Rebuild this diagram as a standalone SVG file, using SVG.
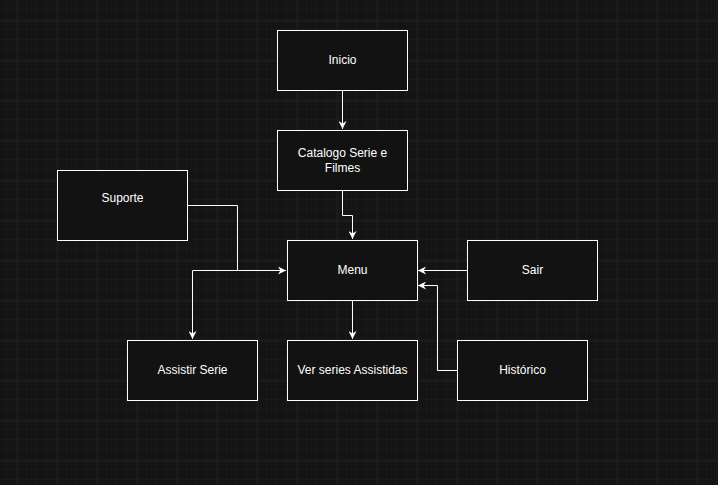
<svg xmlns="http://www.w3.org/2000/svg" width="718" height="485" viewBox="0 0 718 485">
<defs>
<pattern id="minor" x="7" y="0" width="10" height="10" patternUnits="userSpaceOnUse">
<path d="M10 0V10M0 10H10" fill="none" stroke="#1d1d1d" stroke-width="1"/>
</pattern>
<pattern id="major" x="17.5" y="20.5" width="40" height="40" patternUnits="userSpaceOnUse">
<path d="M0 0V40M0 0H40" fill="none" stroke="#2c2c2c" stroke-width="1"/>
</pattern>
<marker id="arr" viewBox="0 0 10 10" refX="10" refY="5" markerWidth="8" markerHeight="8" markerUnits="userSpaceOnUse" orient="auto">
<path d="M0 0L10 5L0 10L3 5Z" fill="#ffffff"/>
</marker>
</defs>
<style>
.box{fill:#121212;stroke:#ffffff;stroke-width:1}
.lbl{font-family:"Liberation Sans",Arial,sans-serif;font-size:12px;fill:#ffffff;text-anchor:middle}
.edge{fill:none;stroke:#ffffff;stroke-width:1}
</style>
<rect width="718" height="485" fill="#141414"/>
<rect width="718" height="485" fill="url(#minor)"/>
<rect width="718" height="485" fill="url(#major)"/>
<g id="connectors">
<path class="edge" d="M342.5 90V129" marker-end="url(#arr)"/>
<path class="edge" d="M342.5 190V215.5H352.5V239" marker-end="url(#arr)"/>
<path class="edge" d="M187 205.5H237.5V270.5H286" marker-end="url(#arr)"/>
<path class="edge" d="M237.5 270.5H192.5V339" marker-end="url(#arr)"/>
<path class="edge" d="M352.5 300V339" marker-end="url(#arr)"/>
<path class="edge" d="M467 270.5H418" marker-end="url(#arr)"/>
<path class="edge" d="M457 370.5H437.5V285.5H418" marker-end="url(#arr)"/>
</g>
<g id="inicio"><rect class="box" x="277.5" y="30.5" width="130" height="60"/><text class="lbl" x="342.5" y="64">Inicio</text></g>
<g id="catalogo"><rect class="box" x="277.5" y="130.5" width="130" height="60"/><text class="lbl" x="342.5" y="157">Catalogo Serie e</text><text class="lbl" x="342.5" y="172">Filmes</text></g>
<g id="suporte"><rect class="box" x="57.5" y="170.5" width="130" height="70"/><text class="lbl" x="122.5" y="202">Suporte</text></g>
<g id="menu"><rect class="box" x="287.5" y="240.5" width="130" height="60"/><text class="lbl" x="352.5" y="274">Menu</text></g>
<g id="sair"><rect class="box" x="467.5" y="240.5" width="130" height="60"/><text class="lbl" x="532.5" y="274">Sair</text></g>
<g id="assistir"><rect class="box" x="127.5" y="340.5" width="130" height="60"/><text class="lbl" x="192.5" y="374">Assistir Serie</text></g>
<g id="ver"><rect class="box" x="287.5" y="340.5" width="130" height="60"/><text class="lbl" x="352.5" y="374">Ver series Assistidas</text></g>
<g id="historico"><rect class="box" x="457.5" y="340.5" width="130" height="60"/><text class="lbl" x="522.5" y="374">Histórico</text></g>
</svg>
